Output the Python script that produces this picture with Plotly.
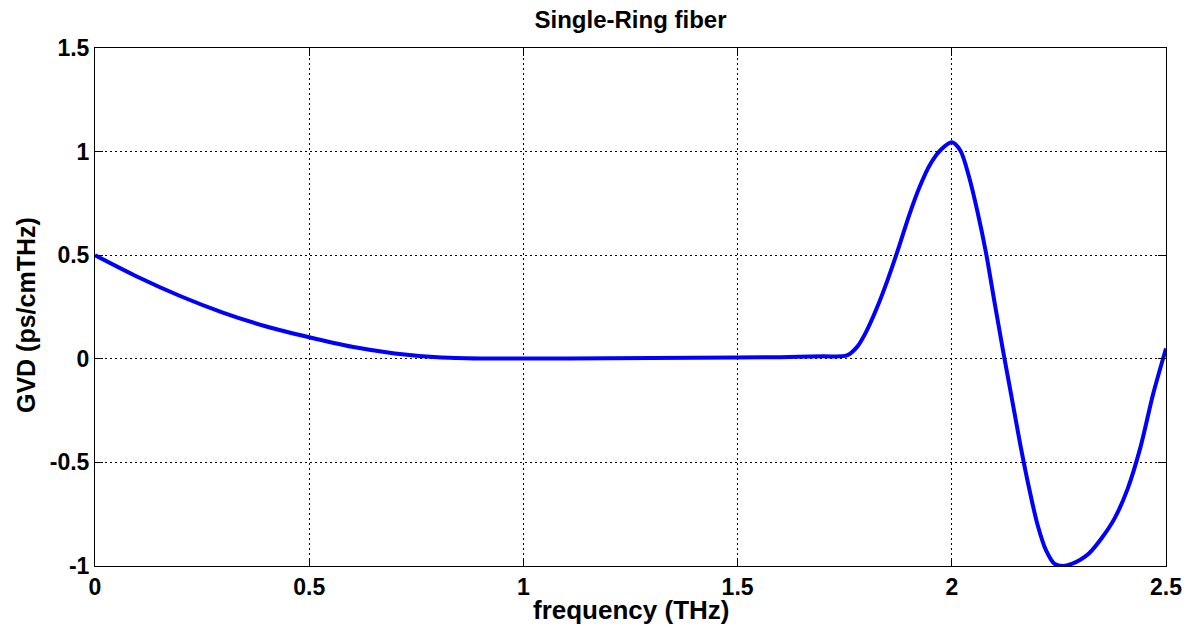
import plotly.graph_objects as go

freq = [0.0, 0.1, 0.2, 0.3, 0.4, 0.5, 0.6, 0.7, 0.8, 0.9, 1.0, 1.2, 1.4, 1.6, 1.7, 1.755,
        1.78, 1.80, 1.825, 1.85, 1.875, 1.9, 1.925, 1.95, 1.975, 2.0, 2.02, 2.04, 2.06,
        2.08, 2.1, 2.12, 2.14, 2.16, 2.18, 2.2, 2.22, 2.24, 2.26, 2.28, 2.3, 2.32, 2.35,
        2.38, 2.41, 2.44, 2.47, 2.5]
gvd = [0.5, 0.395, 0.302, 0.222, 0.156, 0.104, 0.058, 0.026, 0.008, 0.002, 0.001, 0.003,
       0.005, 0.008, 0.012, 0.016, 0.06, 0.13, 0.245, 0.38, 0.53, 0.69, 0.83, 0.94, 1.01,
       1.045, 1.005, 0.88, 0.71, 0.51, 0.27, 0.035, -0.19, -0.415, -0.62, -0.80, -0.925,
       -0.99, -1.0, -0.99, -0.97, -0.94, -0.865, -0.77, -0.63, -0.43, -0.17, 0.05]

x_ticks = [0, 0.5, 1, 1.5, 2, 2.5]
x_tick_labels = ["0", "0.5", "1", "1.5", "2", "2.5"]
y_ticks = [-1, -0.5, 0, 0.5, 1, 1.5]
y_tick_labels = ["-1", "-0.5", "0", "0.5", "1", "1.5"]

FONT = "Liberation Sans, Arial, sans-serif"

fig = go.Figure()
fig.add_trace(go.Scatter(
    x=freq, y=gvd, mode="lines",
    line=dict(color="#0000ff", width=4, shape="spline", smoothing=0.8),
    showlegend=False, hoverinfo="skip", cliponaxis=True,
))

axis_common = dict(
    showline=True, linecolor="black", linewidth=1, mirror="ticks",
    ticks="inside", ticklen=8, tickcolor="black", tickwidth=1,
    showgrid=True, gridcolor="black", gridwidth=1, griddash="2px,3px",
    zeroline=False,
    tickfont=dict(family=FONT, size=23, color="black", weight="bold"),
)

fig.update_xaxes(range=[0, 2.5], tickvals=x_ticks, ticktext=x_tick_labels, **axis_common)
fig.update_yaxes(range=[-1, 1.5], tickvals=y_ticks, ticktext=y_tick_labels, **axis_common)

fig.update_layout(
    width=1195, height=632,
    margin=dict(l=95, r=29, t=48, b=66),
    paper_bgcolor="white", plot_bgcolor="white",
    title=dict(text="Single-Ring fiber", x=0.5, xref="paper", xanchor="center",
               y=1 - 20 / 632, yref="container", yanchor="middle",
               font=dict(family=FONT, size=24, color="black", weight="bold")),
    annotations=[
        dict(text="frequency (THz)", xref="paper", yref="paper", x=0.5, y=-(610 - 566) / 518,
             xanchor="center", yanchor="middle", showarrow=False,
             font=dict(family=FONT, size=26, color="black", weight="bold")),
        dict(text="GVD (ps/cmTHz)", xref="paper", yref="paper", x=-(95 - 26) / 1071,
             y=(566 - 315) / 518, xanchor="center", yanchor="middle", textangle=-90,
             showarrow=False,
             font=dict(family=FONT, size=25, color="black", weight="bold")),
    ],
)

fig.write_html("out.html")
